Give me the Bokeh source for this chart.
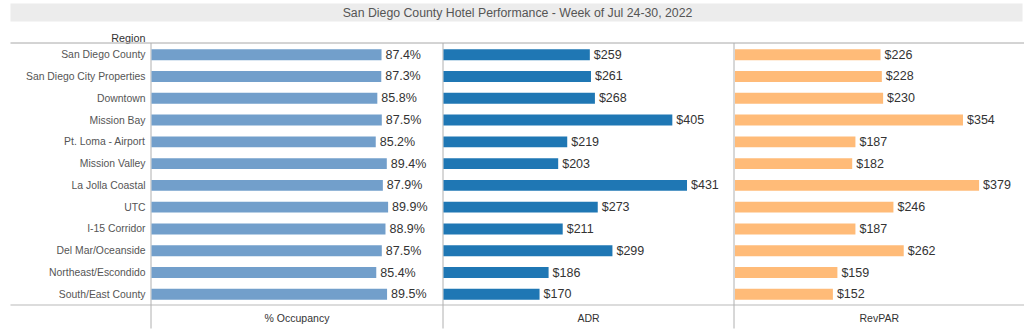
from bokeh.plotting import figure
from bokeh.models import Range1d
from bokeh.core.properties import value
from bokeh.embed import file_html
from bokeh.resources import INLINE

# ---- data ----
title = "San Diego County Hotel Performance - Week of Jul 24-30, 2022"
regions = ["San Diego County", "San Diego City Properties", "Downtown", "Mission Bay",
           "Pt. Loma - Airport", "Mission Valley", "La Jolla Coastal", "UTC",
           "I-15 Corridor", "Del Mar/Oceanside", "Northeast/Escondido", "South/East County"]
occupancy = [87.4, 87.3, 85.8, 87.5, 85.2, 89.4, 87.9, 89.9, 88.9, 87.5, 85.4, 89.5]
adr = [259, 261, 268, 405, 219, 203, 431, 273, 211, 299, 186, 170]
revpar = [226, 228, 230, 354, 187, 182, 379, 246, 187, 262, 159, 152]
measure_names = ["% Occupancy", "ADR", "RevPAR"]

# ---- layout (pixel space) ----
W, H = 1024, 330
FONT = value("Liberation Sans")
row0, pitch = 54.2, 21.78
panel_zero = [151.0, 443.0, 734.5]        # where each panel's 0 sits
px_per_unit = [2.632, 0.565, 0.644]
dividers = [150.5, 442.5, 733.5]
colors = ["#729fcb", "#1f77b4", "#ffbb78"]

p = figure(width=W, height=H, output_backend="svg", toolbar_location=None,
           x_range=Range1d(0, W), y_range=Range1d(H, 0),
           min_border=0, min_border_left=0, min_border_right=0,
           min_border_top=0, min_border_bottom=0)
p.axis.visible = False
p.grid.visible = False
p.outline_line_color = None
p.background_fill_color = "white"
p.border_fill_color = "white"

# rows range: index -> screen y
p.extra_y_ranges = {"rows": Range1d(start=(H - row0) / pitch, end=-row0 / pitch)}
ranges = {}
for k, (z, s) in enumerate(zip(panel_zero, px_per_unit)):
    name = f"m{k}"
    ranges[name] = Range1d(start=-z / s, end=(W - z) / s)
p.extra_x_ranges = ranges

# title band
p.quad(left=[10], right=[1022], top=[3], bottom=[21], fill_color="#ececec", line_color=None)
p.text(x=[517], y=[12.5], text=[title], text_font=FONT, text_font_size="12.3px",
       text_color="#555555", text_align="center", text_baseline="middle")
p.text(x=[145], y=[37], text=["Region"], text_font=FONT, text_font_size="10.8px",
       text_color="#333333", text_align="right", text_baseline="middle")

# grid lines
p.segment(x0=[10], y0=[42.5], x1=[1024], y1=[42.5], line_color="#a8a8a8", line_width=1)
p.segment(x0=[10], y0=[304.5], x1=[1024], y1=[304.5], line_color="#d0d0d0", line_width=1.5)
p.segment(x0=dividers, y0=[42.5] * 3, x1=dividers, y1=[328] * 3, line_color="#b0b0b0", line_width=1)

idx = list(range(len(regions)))

# region labels
p.text(x=[145] * len(regions), y=idx, y_range_name="rows", text=regions, text_font=FONT,
       text_font_size="10.4px", text_color="#555555", text_align="right", text_baseline="middle")

series = [occupancy, adr, revpar]
labels = [[f"{v:.1f}%" for v in occupancy], [f"${v}" for v in adr], [f"${v}" for v in revpar]]
for k, vals in enumerate(series):
    name = f"m{k}"
    p.hbar(y=idx, left=0, right=vals, height=0.5, x_range_name=name, y_range_name="rows",
           fill_color=colors[k], line_color=None)
    p.text(x=vals, y=idx, x_range_name=name, y_range_name="rows", text=labels[k],
           x_offset=4, text_font=FONT, text_font_size="12.5px", text_color="#333333",
           text_align="left", text_baseline="middle")

# measure labels
centers = [(dividers[0] + dividers[1]) / 2, (dividers[1] + dividers[2]) / 2, (dividers[2] + W) / 2]
p.text(x=centers, y=[317] * 3, text=measure_names, text_font=FONT, text_font_size="10.5px",
       text_color="#333333", text_align="center", text_baseline="middle")

open("out.html", "w").write(file_html(p, INLINE))
